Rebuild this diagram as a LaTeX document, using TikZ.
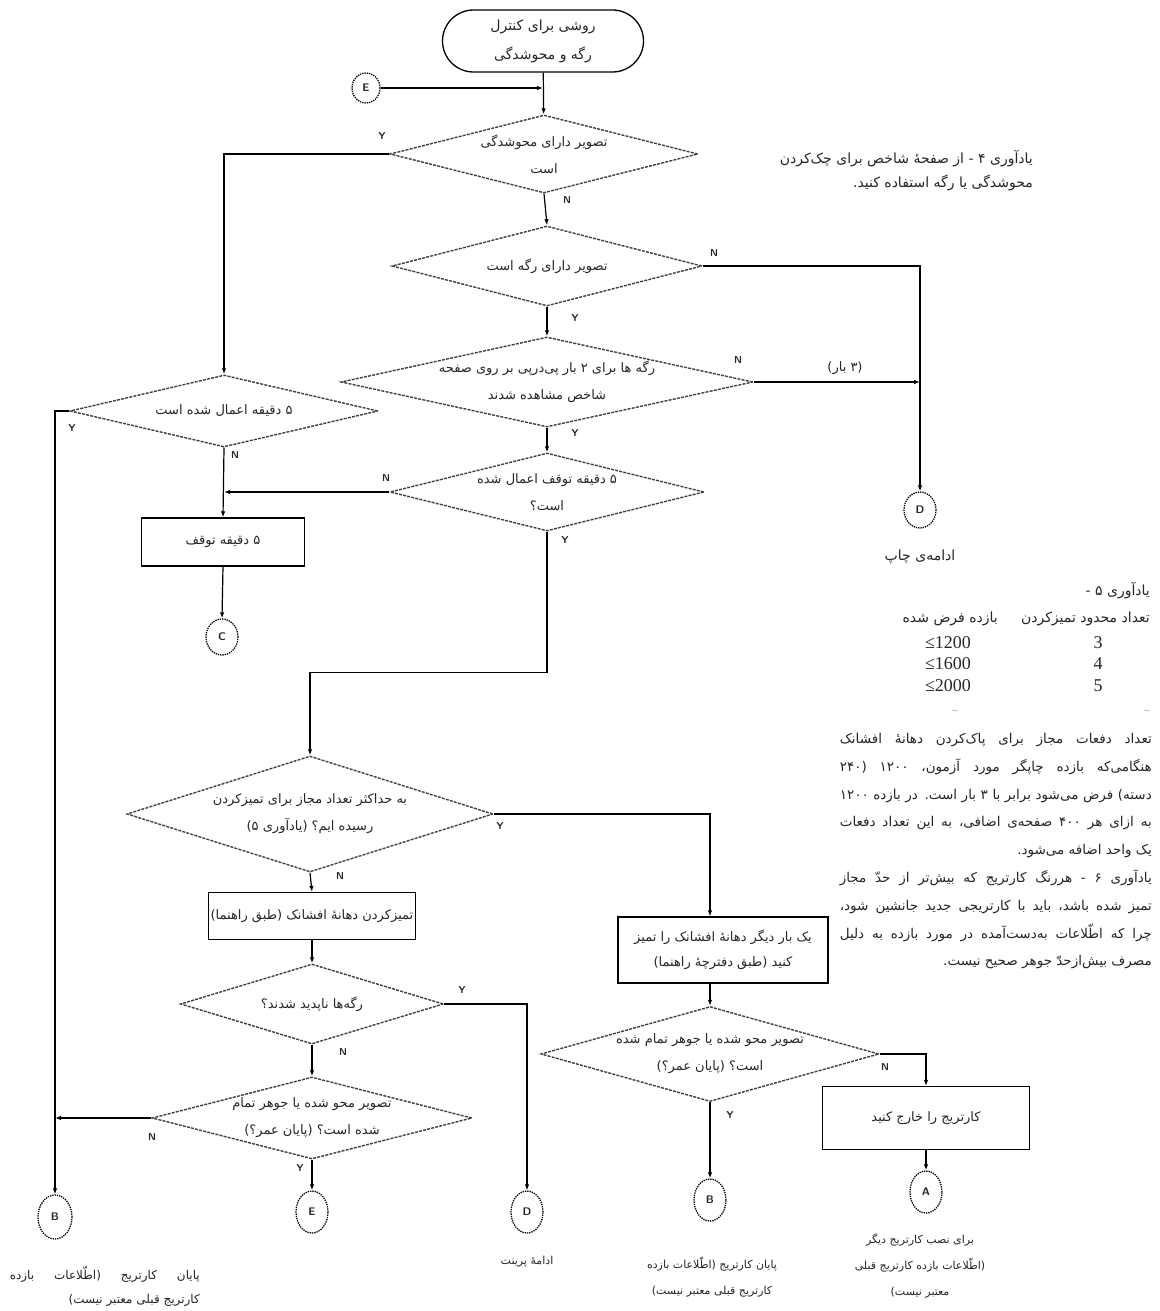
\documentclass[tikz,border=0pt]{standalone}
\usepackage{fontspec}
\setmainfont{Liberation Serif}
\newfontfamily\arabicfont[Script=Arabic]{DejaVu Sans}
\TeXXeTstate=1
\usetikzlibrary{shapes.geometric,shapes.misc,arrows.meta}
\newcommand{\spread}[2]{\makebox[#1][s]{#2}}

\begin{document}
\begin{tikzpicture}[x=1pt,y=-1pt,
  every node/.style={font=\fontsize{13}{27}\selectfont\arabicfont,text=black!85},
  dec/.style={diamond,draw=black!75,dash pattern=on 3pt off 1.2pt,line width=1.4pt,
    align=center,inner xsep=-80pt,inner ysep=-25pt},
  proc/.style={rectangle,draw,line width=1.2pt,align=center,inner sep=2pt},
  term/.style={rounded rectangle,draw,line width=1.3pt,align=center,inner sep=2pt,
    minimum width=205pt,minimum height=62pt,font=\fontsize{14}{29}\selectfont\arabicfont},
  conn/.style={ellipse,draw,densely dotted,line width=1.3pt,inner sep=0pt,
    minimum width=32pt,minimum height=42pt,font=\fontsize{11}{12}\selectfont\sffamily\bfseries},
  yn/.style={font=\fontsize{10}{12}\selectfont\sffamily\bfseries},
  txt/.style={align=center,inner sep=0pt},
  note/.style={font=\fontsize{14}{24}\selectfont\arabicfont,inner sep=0pt},
  num/.style={font=\fontsize{18}{20}\selectfont\rmfamily},
  small/.style={font=\fontsize{11}{26}\selectfont\arabicfont},
  flow/.style={line width=1.2pt,-{Latex[length=6pt,width=4.5pt]}}]
\fill[white] (0,0) rectangle (1159,1311);
\useasboundingbox (0,0) rectangle (1159,1311);

\node[term] (start) at (543,41) {\beginR روشی برای کنترل\endR\\\beginR رگه و محوشدگی\endR};
\node[conn,minimum width=28pt,minimum height=30pt] (e1) at (366,88) {E};
\coordinate (jE) at (543,88);

\node[dec,minimum width=308pt,minimum height=78pt] (d1) at (544,154)
  {\beginR تصویر دارای محوشدگی\endR\\\beginR است\endR};
\node[dec,minimum width=310pt,minimum height=80pt] (d2) at (547,266)
  {\beginR تصویر دارای رگه است\endR};
\node[dec,minimum width=412pt,minimum height=90pt] (d3) at (547,382)
  {\beginR رگه ها برای ۲ بار پی‌درپی بر روی صفحه\endR\\\beginR شاخص مشاهده شدند\endR};
\node[dec,minimum width=314pt,minimum height=78pt] (d4) at (547,492)
  {\beginR ۵ دقیقه توقف اعمال شده\endR\\\beginR است؟\endR};
\node[dec,minimum width=308pt,minimum height=72pt] (d5m) at (224,411)
  {\beginR ۵ دقیقه اعمال شده است\endR};
\node[proc,minimum width=163pt,minimum height=48pt] (p5) at (223,542) {\beginR ۵ دقیقه توقف\endR};
\node[conn,minimum height=36pt] (cC) at (222,637) {C};
\node[conn,minimum height=36pt] (cD1) at (920,510) {D};

\node[dec,minimum width=366pt,minimum height=116pt] (dmax) at (310,814)
  {\beginR به حداکثر تعداد مجاز برای تمیزکردن\endR\\\beginR رسیده ایم؟ (یادآوری ۵)\endR};
\node[proc,minimum width=202pt,minimum height=47pt] (c1) at (312,916) {\beginR تمیزکردن دهانهٔ افشانک (طبق راهنما)\endR};
\node[dec,minimum width=263pt,minimum height=80pt] (d6) at (312,1004)
  {\beginR رگه‌ها ناپدید شدند؟\endR};
\node[dec,minimum width=320pt,minimum height=82pt] (d7) at (312,1118)
  {\beginR تصویر محو شده یا جوهر تمام\endR\\\beginR شده است؟ (پایان عمر؟)\endR};
\node[proc,minimum width=210pt,minimum height=66pt,font=\fontsize{13}{25}\selectfont\arabicfont] (r1) at (723,950)
  {\beginR یک بار دیگر دهانهٔ افشانک را تمیز\endR\\\beginR کنید (طبق دفترچهٔ راهنما)\endR};
\node[dec,minimum width=338pt,minimum height=95pt] (d8) at (710,1054)
  {\beginR تصویر محو شده یا جوهر تمام شده\endR\\\beginR است؟ (پایان عمر؟)\endR};
\node[proc,minimum width=207pt,minimum height=63pt] (x1) at (926,1118) {\beginR کارتریج را خارج کنید\endR};

\node[conn,minimum width=34pt,minimum height=44pt] (cB1) at (55,1217) {B};
\node[conn] (cE2) at (312,1212) {E};
\node[conn] (cD2) at (527,1212) {D};
\node[conn] (cB2) at (710,1200) {B};
\node[conn] (cA) at (926,1192) {A};

\draw[flow] (start) -- (d1);
\draw[flow] (e1) -- (jE);
\draw[flow] (d1.west) -| (d5m.north);
\draw[flow] (d1.south) -- (d2.north);
\draw[flow] (d2.south) -- (d3.north);
\draw[flow] (d2.east) -| (cD1.north);
\draw[flow] (d3.east) -- (d3.east -| cD1.north);
\draw[flow] (d3.south) -- (d4.north);
\draw[flow] (d4.west) -- (d4.west -| d5m.south);
\draw[flow] (d5m.south) -- (p5.north);
\draw[flow] (p5.south) -- (cC.north);
\draw[flow] (d5m.west) -| (cB1.north);
\draw[flow] (d4.south) -- ++(0,141) -| (dmax.north);
\draw[flow] (dmax.east) -| (d8.north |- r1.north);
\draw[flow] (dmax.south) -- (c1.north);
\draw[flow] (c1.south) -- (d6.north);
\draw[flow] (d6.east) -| (cD2.north);
\draw[flow] (d6.south) -- (d7.north);
\draw[flow] (d7.west) -- (d7.west -| cB1.north);
\draw[flow] (d7.south) -- (cE2.north);
\draw[flow] (r1.south -| d8.north) -- (d8.north);
\draw[flow] (d8.east) -| (x1.north);
\draw[flow,line width=2pt] (d8.south) -- (cB2.north);
\draw[flow] (x1.south) -- (cA.north);

\node[yn] (y1) at (382,136) {Y};
\node[yn] (n1) at (567,200) {N};
\node[yn] (n2) at (714,253) {N};
\node[yn] (y2) at (575,318) {Y};
\node[yn] (n3) at (738,360) {N};
\node[yn] (y3) at (575,433) {Y};
\node[yn] (n4) at (386,478) {N};
\node[yn] (y4) at (565,540) {Y};
\node[yn] (y5) at (72,428) {Y};
\node[yn] (n5) at (235,455) {N};
\node[yn] (y6) at (500,826) {Y};
\node[yn] (n6) at (340,876) {N};
\node[yn] (y7) at (462,990) {Y};
\node[yn] (n7) at (343,1052) {N};
\node[yn] (n8) at (152,1137) {N};
\node[yn] (y8) at (300,1168) {Y};
\node[yn] (n9) at (885,1067) {N};
\node[yn] (y9) at (730,1115) {Y};
\node (times) at (845,368) {\beginR (۳ بار)\endR};

\node[note] (lbD1) at (920,557) {\beginR ادامه‌ی چاپ\endR};
\node[note,align=right,anchor=north east] (note4) at (1033,150)
  {\beginR یادآوری ۴ - از صفحهٔ شاخص برای چک‌کردن\endR\\\beginR محوشدگی یا رگه استفاده کنید.\endR};

\node[note,anchor=east] (note5) at (1150,591) {\beginR یادآوری ۵ -\endR};
\node[note,anchor=east] (hd1) at (1150,619) {\beginR تعداد محدود تمیزکردن\endR};
\node[note,anchor=east] (hd2) at (998,619) {\beginR بازده فرض شده\endR};
\node[num] (r12) at (948,643) {≤1200};
\node[num] (r16) at (948,664) {≤1600};
\node[num] (r20) at (948,686) {≤2000};
\node[num] (c3) at (1098,643) {3};
\node[num] (c4) at (1098,664) {4};
\node[num] (c5) at (1098,686) {5};
\node[font=\scriptsize\rmfamily] (dots1) at (955,711) {...};
\node[font=\scriptsize\rmfamily] (dots2) at (1147,711) {...};

\node[note,align=right,anchor=north east,font=\fontsize{13.5}{27.8}\selectfont\arabicfont] (para) at (1152,733)
  {\spread{312pt}{\beginR تعداد دفعات مجاز برای پاک‌کردن دهانهٔ افشانک\endR}\\
   \spread{312pt}{\beginR هنگامی‌که بازده چاپگر مورد آزمون، ۱۲۰۰ (۲۴۰\endR}\\
   \spread{312pt}{\beginR دسته) فرض می‌شود برابر با ۳ بار است. در بازده ۱۲۰۰\endR}\\
   \spread{312pt}{\beginR به ازای هر ۴۰۰ صفحه‌ی اضافی، به این تعداد دفعات\endR}\\
   \beginR یک واحد اضافه می‌شود.\endR\\
   \spread{312pt}{\beginR یادآوری ۶ - هررنگ کارتریج که بیش‌تر از حدّ مجاز\endR}\\
   \spread{312pt}{\beginR تمیز شده باشد، باید با کارتریجی جدید جانشین شود،\endR}\\
   \spread{312pt}{\beginR چرا که اطّلاعات به‌دست‌آمده در مورد بازده به دلیل\endR}\\
   \beginR مصرف بیش‌ازحدّ جوهر صحیح نیست.\endR};

\node[small,align=right,anchor=north east,inner sep=0pt,font=\fontsize{12}{24}\selectfont\arabicfont] (lbB1) at (200,1266)
  {\spread{190pt}{\beginR پایان کارتریج (اطّلاعات بازده\endR}\\\beginR کارتریج قبلی معتبر نیست)\endR};
\node[small] (lbD2) at (527,1262) {\beginR ادامهٔ پرینت\endR};
\node[small,txt] (lbB2) at (712,1277)
  {\beginR پایان کارتریج (اطّلاعات بازده\endR\\\beginR کارتریج قبلی معتبر نیست)\endR};
\node[small,txt] (lbA) at (920,1266)
  {\beginR برای نصب کارتریج دیگر\endR\\\beginR (اطّلاعات بازده کارتریج قبلی\endR\\\beginR معتبر نیست)\endR};
\end{tikzpicture}
\end{document}
